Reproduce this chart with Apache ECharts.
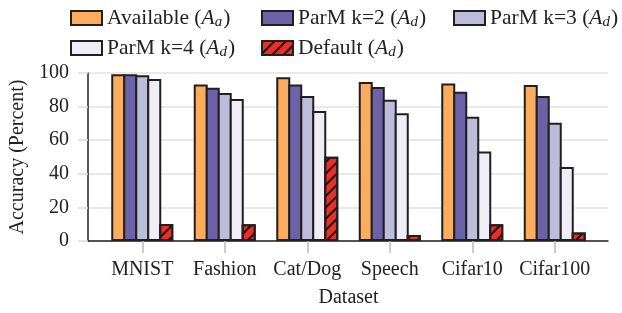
<!DOCTYPE html>
<html>
<head>
<meta charset="utf-8">
<script src="https://cdn.jsdelivr.net/npm/echarts@6/dist/echarts.min.js"></script>
<style>html,body{margin:0;padding:0;background:#fff;}#c{width:622px;height:313px;}</style>
</head>
<body>
<div id="c"></div>
<script>
const categories = ['MNIST', 'Fashion', 'Cat/Dog', 'Speech', 'Cifar10', 'Cifar100'];
const available = [99.2, 93.2, 97.4, 94.6, 93.8, 92.8];
const parmK2 = [99.2, 91.2, 93.2, 91.7, 88.9, 86.3];
const parmK3 = [98.6, 88.1, 86.3, 84.1, 74.0, 70.4];
const parmK4 = [96.5, 84.5, 77.4, 76.0, 53.2, 44.0];
const defaultAcc = [10.1, 10.0, 50.2, 3.5, 10.0, 5.1];
const yTicks = [0, 20, 40, 60, 80, 100];

const FONT = '"Liberation Serif", "DejaVu Serif", serif';
const seriesDefs = [
  {name: 'Available', sub: 'a', data: available, color: '#fbac5c'},
  {name: 'ParM k=2', sub: 'd', data: parmK2, color: '#6b62a8'},
  {name: 'ParM k=3', sub: 'd', data: parmK3, color: '#bcbcdb'},
  {name: 'ParM k=4', sub: 'd', data: parmK4, color: '#efeef6'},
  {name: 'Default', sub: 'd', data: defaultAcc, color: '#ee2e24', hatch: true}
];
const legendPos = [[70, 7], [261, 7], [453, 7], [70, 37], [261, 37]];
const rich = {
  t: {fontFamily: FONT, fontSize: 21.5, color: '#222'},
  i: {fontFamily: FONT, fontSize: 21.5, fontStyle: 'italic', color: '#222'},
  s: {fontFamily: FONT, fontSize: 15, fontStyle: 'italic', color: '#222', padding: [9, 1, 0, 0]}
};
const legends = seriesDefs.map((s, k) => ({
  left: legendPos[k][0], top: legendPos[k][1], padding: 0,
  itemWidth: 31, itemHeight: 14, icon: 'rect',
  data: [s.name],
  formatter: (n) => '{t|' + n + ' (}{i|A}{s|' + s.sub + '}{t|)}',
  textStyle: {fontFamily: FONT, fontSize: 21.5, color: '#222', rich: rich}
}));

const BW = 14;
const series = seriesDefs.map(s => {
  const st = {color: s.color, borderColor: '#231f20', borderWidth: 2};
  if (s.hatch) {
    st.decal = {symbol: 'rect', symbolSize: 1, dashArrayX: [1, 0], dashArrayY: [1.2, 6], rotation: -Math.PI / 4, color: '#111'};
  }
  return {
    name: s.name, type: 'bar', xAxisIndex: 1, yAxisIndex: 1,
    data: s.data, barWidth: BW, barGap: (-2 / BW * 100) + '%', itemStyle: st
  };
});

const chart = echarts.init(document.getElementById('c'), null, {renderer: 'canvas'});
chart.setOption({
  animation: false,
  backgroundColor: '#fff',
  legend: legends,
  grid: [
    {left: 88, right: 14, top: 73, bottom: 72},
    {left: 101, right: 26, top: 73, bottom: 72}
  ],
  xAxis: [
    {gridIndex: 0, type: 'value', min: 0, max: 1,
     axisLine: {show: true, onZero: false, lineStyle: {color: '#222', width: 1.5}},
     axisTick: {show: false}, axisLabel: {show: false}, splitLine: {show: false}},
    {gridIndex: 1, type: 'category', data: categories,
     axisLine: {show: false},
     axisTick: {show: true, alignWithLabel: true, length: 12, lineStyle: {color: '#bbb', width: 1.5}},
     axisLabel: {interval: 0, margin: 19, fontFamily: FONT, fontSize: 20, color: '#222'},
     name: 'Dataset', nameLocation: 'middle', nameGap: 47,
     nameTextStyle: {fontFamily: FONT, fontSize: 20, color: '#222'}}
  ],
  yAxis: [
    {gridIndex: 0, type: 'value', min: yTicks[0], max: yTicks[yTicks.length - 1], interval: 20,
     axisLine: {show: true, lineStyle: {color: '#222', width: 1.5}},
     axisTick: {show: true, length: 10, lineStyle: {color: '#ddd', width: 1.5}},
     axisLabel: {margin: 19, fontFamily: FONT, fontSize: 20, color: '#222'},
     splitLine: {show: true, lineStyle: {color: '#e2e2e2', width: 1.5}},
     name: 'Accuracy (Percent)', nameLocation: 'middle', nameGap: 48,
     nameTextStyle: {fontFamily: FONT, fontSize: 20, color: '#222'}},
    {gridIndex: 1, type: 'value', min: 0, max: 100, show: false}
  ],
  series: series
});
</script>
</body>
</html>
